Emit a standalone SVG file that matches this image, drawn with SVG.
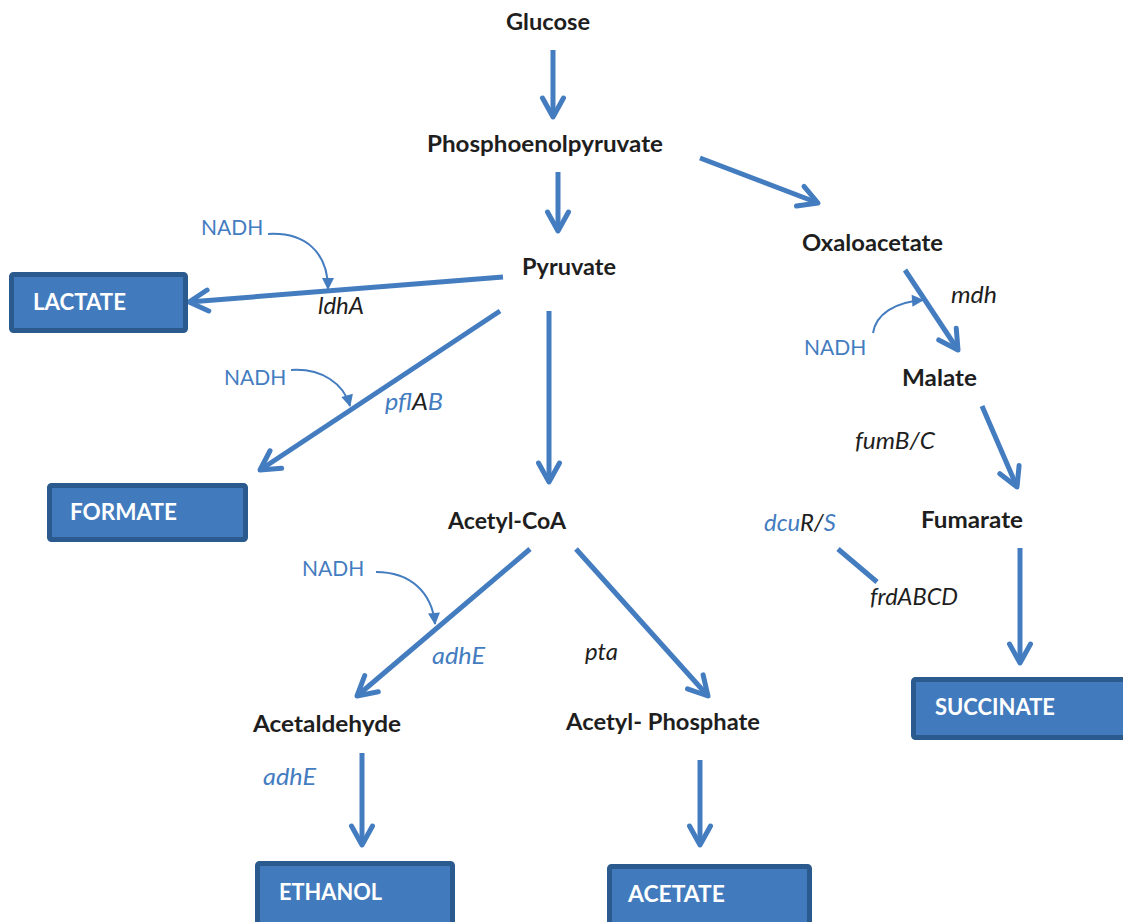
<svg xmlns="http://www.w3.org/2000/svg" width="1123" height="922" viewBox="0 0 1123 922">
  <defs>
    <marker id="chev" markerUnits="userSpaceOnUse" markerWidth="30" markerHeight="30" viewBox="0 0 30 30" refX="24" refY="15" orient="auto" overflow="visible">
      <path d="M5,4.5 L24,15 L5,25.5" fill="none" stroke="#447cc0" stroke-width="5" stroke-linecap="round" stroke-linejoin="round"/>
    </marker>
    <marker id="tri" markerUnits="userSpaceOnUse" markerWidth="12" markerHeight="12" viewBox="0 0 12 12" refX="11" refY="6" orient="auto" overflow="visible">
      <path d="M0,0 L12,6 L0,12 z" fill="#447cc0"/>
    </marker>
    <style>
      .arrow { stroke: #447cc0; stroke-width: 5; fill: none; marker-end: url(#chev); }
      .link { stroke: #447cc0; stroke-width: 5; fill: none; }
      .cof { stroke: #447cc0; stroke-width: 2; fill: none; marker-end: url(#tri); }
      .node { font-family: Lato, "Open Sans", "Liberation Sans", sans-serif; font-weight: bold; font-size: 22px; fill: #1e1e1e; }
      .box rect { fill: #427bbd; stroke: #2b5a8e; stroke-width: 5; }
      .box text { font-family: Lato, "Open Sans", "Liberation Sans", sans-serif; font-weight: bold; font-size: 22px; fill: #ffffff; }
      .gene { font-family: Lato, "Open Sans", "Liberation Sans", sans-serif; font-style: italic; font-size: 23px; fill: #1e1e1e; }
      .blue { fill: #447cc0; }
      .nadh { font-family: Lato, "Open Sans", "Liberation Sans", sans-serif; font-size: 21px; fill: #447cc0; }
    </style>
  </defs>
  <rect width="1123" height="922" fill="#ffffff"/>

  <!-- pathway arrows -->
  <g id="connectors">
    <line class="arrow" x1="553" y1="50" x2="553" y2="117"/>
    <line class="arrow" x1="558" y1="172" x2="558" y2="231"/>
    <line class="arrow" x1="700" y1="158" x2="818" y2="203"/>
    <line class="arrow" x1="503" y1="277" x2="189" y2="302"/>
    <line class="arrow" x1="500" y1="311" x2="260" y2="470"/>
    <line class="arrow" x1="549" y1="311" x2="549" y2="482"/>
    <line class="arrow" x1="905" y1="270" x2="958" y2="350"/>
    <line class="arrow" x1="982" y1="406" x2="1017" y2="487"/>
    <line class="arrow" x1="1020" y1="548" x2="1020" y2="663"/>
    <line class="arrow" x1="530" y1="549" x2="357" y2="696"/>
    <line class="arrow" x1="576" y1="549" x2="708" y2="696"/>
    <line class="arrow" x1="362" y1="753" x2="362" y2="845"/>
    <line class="arrow" x1="700" y1="760" x2="700" y2="845"/>
    <line class="link" x1="838" y1="549" x2="877" y2="582"/>
    <!-- NADH cofactor inputs -->
    <path class="cof" d="M268,234 C305,232 328,252 328,289"/>
    <path class="cof" d="M291,370 C322,368 344,384 350,406"/>
    <path class="cof" d="M873,333 C876,314 895,302 923,300"/>
    <path class="cof" d="M376,572 C410,572 432,592 435,624"/>
  </g>

  <!-- metabolites -->
  <g id="glucose"><text class="node" x="506" y="30" textLength="84" lengthAdjust="spacingAndGlyphs">Glucose</text></g>
  <g id="pep"><text class="node" x="427" y="152" textLength="236" lengthAdjust="spacingAndGlyphs">Phosphoenolpyruvate</text></g>
  <g id="pyruvate"><text class="node" x="522" y="275" textLength="94" lengthAdjust="spacingAndGlyphs">Pyruvate</text></g>
  <g id="oxaloacetate"><text class="node" x="802" y="251" textLength="141" lengthAdjust="spacingAndGlyphs">Oxaloacetate</text></g>
  <g id="malate"><text class="node" x="902" y="386" textLength="75" lengthAdjust="spacingAndGlyphs">Malate</text></g>
  <g id="fumarate"><text class="node" x="921" y="528" textLength="102" lengthAdjust="spacingAndGlyphs">Fumarate</text></g>
  <g id="acetylcoa"><text class="node" x="448" y="529" textLength="118" lengthAdjust="spacingAndGlyphs">Acetyl-CoA</text></g>
  <g id="acetaldehyde"><text class="node" x="253" y="732" textLength="148" lengthAdjust="spacingAndGlyphs">Acetaldehyde</text></g>
  <g id="acetylphosphate"><text class="node" x="566" y="730" textLength="194" lengthAdjust="spacingAndGlyphs">Acetyl- Phosphate</text></g>

  <!-- end products -->
  <g id="lactate" class="box">
    <rect x="11.5" y="274.5" width="174" height="56" rx="2"/>
    <text x="33" y="310" textLength="93" lengthAdjust="spacingAndGlyphs">LACTATE</text>
  </g>
  <g id="formate" class="box">
    <rect x="49.5" y="485.5" width="196" height="54" rx="2"/>
    <text x="70" y="520" textLength="107" lengthAdjust="spacingAndGlyphs">FORMATE</text>
  </g>
  <g id="succinate" class="box">
    <rect x="913.5" y="679.5" width="220" height="58" rx="2"/>
    <text x="935" y="715" textLength="120" lengthAdjust="spacingAndGlyphs">SUCCINATE</text>
  </g>
  <g id="ethanol" class="box">
    <rect x="257.5" y="863.5" width="195" height="62" rx="2"/>
    <text x="279" y="900" textLength="103" lengthAdjust="spacingAndGlyphs">ETHANOL</text>
  </g>
  <g id="acetate" class="box">
    <rect x="609.5" y="866.5" width="200" height="60" rx="2"/>
    <text x="628" y="902" textLength="97" lengthAdjust="spacingAndGlyphs">ACETATE</text>
  </g>

  <!-- enzymes and regulators -->
  <g id="genes">
    <text class="gene" x="318" y="314" textLength="46" lengthAdjust="spacingAndGlyphs">ldhA</text>
    <text class="gene" x="385" y="410" textLength="58" lengthAdjust="spacingAndGlyphs"><tspan class="blue">pfl</tspan>A<tspan class="blue">B</tspan></text>
    <text class="gene" x="951" y="303" textLength="46" lengthAdjust="spacingAndGlyphs">mdh</text>
    <text class="gene" x="855" y="449" textLength="80" lengthAdjust="spacingAndGlyphs">fumB/C</text>
    <text class="gene" x="764" y="531" textLength="72" lengthAdjust="spacingAndGlyphs"><tspan class="blue">dcu</tspan>R/<tspan class="blue">S</tspan></text>
    <text class="gene" x="870" y="605" textLength="88" lengthAdjust="spacingAndGlyphs">frdABCD</text>
    <text class="gene blue" x="432" y="664" textLength="53" lengthAdjust="spacingAndGlyphs">adhE</text>
    <text class="gene" x="585" y="660" textLength="33" lengthAdjust="spacingAndGlyphs">pta</text>
    <text class="gene blue" x="263" y="785" textLength="53" lengthAdjust="spacingAndGlyphs">adhE</text>
  </g>

  <!-- NADH cofactors -->
  <g id="cofactors">
    <text class="nadh" x="201" y="235">NADH</text>
    <text class="nadh" x="224" y="385">NADH</text>
    <text class="nadh" x="804" y="355">NADH</text>
    <text class="nadh" x="302" y="576">NADH</text>
  </g>
</svg>
